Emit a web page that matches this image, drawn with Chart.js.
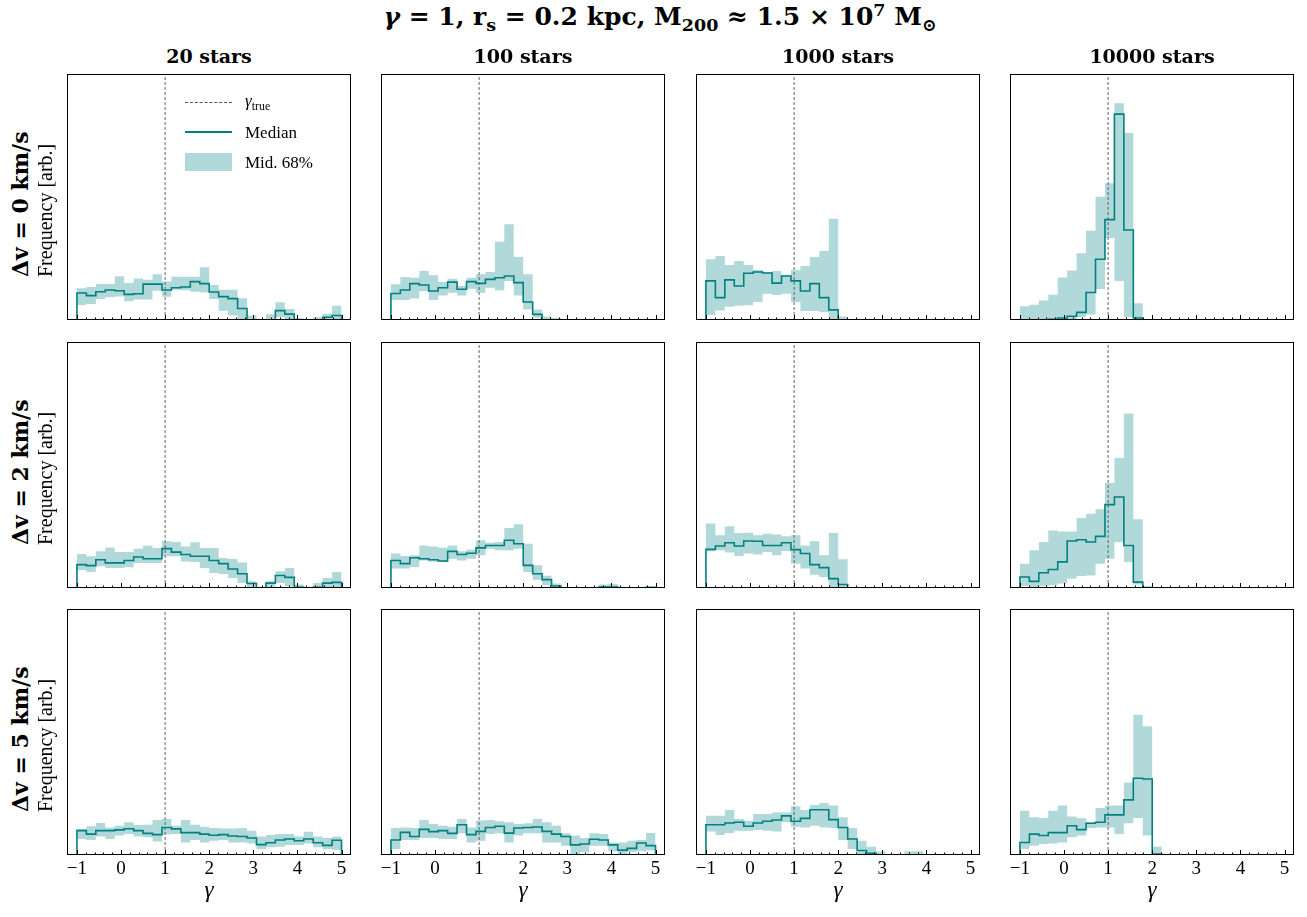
<!DOCTYPE html>
<html>
<head>
<meta charset="utf-8">
<script src="https://cdn.jsdelivr.net/npm/chart.js@4.4.1/dist/chart.umd.min.js"></script>
<style>
  body { margin: 0; background: #fff; }
  #fig { position: relative; width: 1307px; height: 917px; font-family: 'Liberation Serif', 'DejaVu Serif', serif; color: #000; }
  #fig canvas { position: absolute; }
  .txt { position: absolute; white-space: nowrap; line-height: 1; }
  .bold { font-family: 'DejaVu Serif', serif; font-weight: bold; }
  .rot { transform-origin: 0 0; transform: rotate(-90deg); }
</style>
</head>
<body>
<div id="fig"></div>
<script>
// histogram binning of gamma, 28 bins between -1 and 5
const binMin = -1, binMax = 5, nBins = 28;
const xMin = -1.225, xMax = 5.215;
const gammaTrue = 1;
const starCounts = ['20', '100', '1000', '10000'];
const dvValues = ['0', '2', '5'];

// frequency [arb.] per bin : median, lower and upper edge of the middle 68%
// dv = 0 km/s
const med_dv0_n20 = [11.0, 9.9, 11.5, 12.2, 11.9, 10.4, 10.7, 14.6, 14.6, 12.2, 13.1, 13.4, 15.6, 14.8, 11.4, 9.5, 8.7, 4.7, 0, 0, 0, 3.8, 2.4, 0, 0, 0, 1.1, 1.8];
const hi_dv0_n20  = [12.9, 13.4, 14.6, 14.6, 17.8, 15.0, 16.9, 16.4, 18.6, 15.7, 17.6, 17.6, 17.6, 21.4, 14.2, 12.3, 12.3, 8.8, 1.8, 0.4, 2.3, 7.2, 4.5, 0.7, 0, 1.1, 2.4, 5.8];
const lo_dv0_n20  = [6.1, 6.5, 8.5, 9.2, 9.6, 7.6, 8.3, 8.3, 11.9, 9.5, 12.3, 12.1, 11.5, 11.2, 8.5, 3.8, 1.8, 0, 0, 0, 0, 1.1, 0, 0, 0, 0, 0, 0];

const med_dv0_n100 = [10.8, 12.2, 14.8, 14.2, 11.8, 13.1, 15.4, 12.5, 15.6, 14.9, 16.5, 17.2, 17.9, 15.2, 7.3, 2.3, 0, 0, 0, 0, 0, 0, 0, 0, 0, 0, 0, 0];
const hi_dv0_n100  = [14.5, 17.5, 17.2, 19.9, 18.2, 15.4, 16.8, 13.8, 17.2, 18.6, 19.5, 31.8, 38.9, 25.6, 18.6, 4.3, 1.4, 0.8, 0, 0, 0, 0, 0.3, 0.3, 0, 0, 0, 0];
const lo_dv0_n100  = [8.1, 8.1, 8.7, 11.7, 8.1, 10.0, 11.1, 10.0, 12.7, 11.1, 13.1, 12.1, 15.9, 10.0, 4.3, 0.9, 0, 0, 0, 0, 0, 0, 0, 0, 0, 0, 0, 0];

const med_dv0_n1000 = [15.9, 9.1, 16.3, 13.8, 19.0, 19.5, 19.1, 15.0, 17.9, 15.9, 11.8, 14.8, 9.1, 4.1, 0, 0, 0, 0, 0, 0, 0, 0, 0, 0, 0, 0, 0, 0];
const hi_dv0_n1000  = [24.7, 26.0, 22.4, 24.0, 22.4, 20.3, 19.5, 19.9, 18.4, 20.3, 22.0, 25.6, 28.0, 41.2, 1.4, 0, 0, 0, 0, 0, 0, 0, 0, 0, 0, 0, 0, 0];
const lo_dv0_n1000  = [2.0, 3.9, 5.4, 5.8, 6.0, 7.3, 10.7, 10.2, 10.7, 7.3, 3.7, 3.7, 3.3, 0, 0, 0, 0, 0, 0, 0, 0, 0, 0, 0, 0, 0, 0, 0];

const med_dv0_n10000 = [0, 0, 0, 0.3, 0.8, 1.5, 3.1, 11.2, 24.7, 40.8, 83.7, 36.6, 0.8, 0, 0, 0, 0, 0, 0, 0, 0, 0, 0, 0, 0, 0, 0, 0];
const hi_dv0_n10000  = [5.6, 6.2, 7.9, 10.3, 17.3, 20.1, 27.1, 36.3, 50.1, 55.6, 88.1, 76.0, 6.8, 0, 0, 0, 0, 0, 0, 0, 0, 0, 0, 0, 0, 0, 0, 0];
const lo_dv0_n10000  = [0, 0, 0, 0, 0, 0.4, 1.1, 2.2, 12.6, 33.3, 15.9, 1.1, 0, 0, 0, 0, 0, 0, 0, 0, 0, 0, 0, 0, 0, 0, 0, 0];

// dv = 2 km/s
const med_dv2_n20 = [9.5, 9.1, 11.5, 10.2, 10.2, 11.2, 12.6, 11.9, 11.9, 16.0, 14.6, 13.6, 12.9, 12.9, 11.2, 9.9, 7.7, 5.8, 1.8, 0, 2.0, 5.1, 4.3, 0.3, 0, 0.3, 2.0, 2.3];
const hi_dv2_n20  = [13.8, 12.9, 14.9, 16.5, 14.6, 14.6, 16.0, 17.2, 16.3, 19.0, 18.7, 16.9, 18.6, 16.3, 16.3, 12.2, 11.8, 10.4, 2.7, 0.3, 2.7, 6.8, 8.1, 1.4, 0.3, 2.0, 4.1, 6.5];
const lo_dv2_n20  = [7.2, 6.5, 8.8, 8.1, 8.1, 8.4, 10.2, 10.2, 10.2, 12.9, 12.9, 10.8, 10.6, 8.1, 6.1, 5.7, 4.1, 2.0, 0, 0, 0, 2.0, 0.7, 0, 0, 0, 0, 0];

const med_dv2_n100 = [11.2, 9.9, 12.3, 11.9, 11.5, 11.0, 14.9, 13.6, 14.1, 16.3, 17.3, 17.3, 19.4, 18.0, 9.2, 5.8, 3.4, 0.8, 0, 0, 0, 0, 0.4, 0.4, 0, 0, 0, 0.3];
const hi_dv2_n100  = [14.0, 13.0, 13.3, 17.3, 16.9, 16.4, 17.3, 14.9, 15.7, 19.4, 18.4, 18.7, 24.4, 25.9, 18.0, 9.2, 5.0, 1.8, 0.3, 0, 0, 0, 1.4, 1.6, 0, 0, 0, 0.4];
const lo_dv2_n100  = [7.9, 7.9, 8.5, 11.2, 10.8, 10.6, 11.9, 11.2, 11.9, 13.3, 16.0, 15.3, 15.3, 16.0, 6.5, 3.4, 1.1, 0, 0, 0, 0, 0, 0, 0, 0, 0, 0, 0];

const med_dv2_n1000 = [15.7, 17.1, 18.4, 17.1, 19.1, 19.0, 17.3, 17.3, 18.4, 15.6, 14.0, 9.5, 8.3, 3.8, 1.4, 0, 0, 0, 0, 0, 0, 0, 0, 0, 0, 0, 0, 0];
const hi_dv2_n1000  = [26.2, 21.4, 25.1, 22.4, 22.5, 21.4, 22.1, 21.7, 21.0, 21.4, 17.3, 19.0, 13.3, 22.4, 11.7, 0, 0, 0, 0, 0, 0, 0, 0, 0, 0, 0, 0, 0];
const lo_dv2_n1000  = [14.9, 15.3, 14.4, 13.0, 14.0, 13.6, 14.6, 13.3, 15.0, 9.9, 7.9, 5.4, 4.5, 0, 0, 0, 0, 0, 0, 0, 0, 0, 0, 0, 0, 0, 0, 0];

const med_dv2_n10000 = [4.5, 2.7, 6.2, 7.5, 10.6, 19.1, 19.6, 18.7, 21.0, 33.9, 37.0, 17.3, 2.4, 0, 0, 0, 0, 0, 0, 0, 0, 0, 0, 0, 0, 0, 0, 0];
const hi_dv2_n10000  = [9.9, 15.3, 18.7, 23.4, 23.0, 23.0, 28.5, 30.2, 32.0, 42.7, 52.8, 70.9, 27.9, 0.8, 0, 0, 0, 0, 0, 0, 0, 0, 0, 0, 0, 0, 0, 0];
const lo_dv2_n10000  = [0.8, 0.4, 0.8, 1.1, 1.8, 3.8, 4.9, 5.1, 9.9, 11.9, 18.7, 10.6, 1.4, 0, 0, 0, 0, 0, 0, 0, 0, 0, 0, 0, 0, 0, 0, 0];

// dv = 5 km/s
const med_dv5_n20 = [9.9, 8.5, 9.9, 9.9, 10.2, 10.7, 9.9, 8.8, 8.3, 11.2, 10.6, 9.1, 9.1, 8.5, 8.0, 8.3, 7.7, 7.5, 6.9, 4.2, 5.0, 6.1, 6.5, 5.8, 6.5, 5.0, 3.9, 6.0];
const hi_dv5_n20  = [10.6, 11.7, 13.0, 11.2, 11.9, 13.3, 12.2, 12.3, 14.2, 14.6, 11.9, 14.2, 12.3, 11.5, 11.0, 10.8, 10.8, 11.0, 9.9, 7.5, 8.1, 8.5, 8.5, 7.5, 9.5, 7.5, 6.9, 7.5];
const lo_dv5_n20  = [6.5, 6.1, 7.5, 6.5, 7.9, 8.5, 7.5, 7.2, 5.5, 8.3, 8.5, 5.1, 6.1, 5.1, 5.8, 6.1, 5.1, 5.1, 4.7, 2.4, 3.1, 3.4, 4.1, 4.1, 4.7, 3.1, 2.4, 2.0];

const med_dv5_n100 = [6.1, 9.2, 7.5, 10.4, 9.5, 9.9, 8.8, 12.3, 8.3, 9.6, 11.2, 11.7, 8.9, 11.0, 11.2, 11.4, 9.6, 8.5, 7.5, 4.1, 4.5, 6.4, 6.1, 4.1, 2.0, 2.7, 4.9, 3.8];
const hi_dv5_n100  = [11.0, 11.2, 11.0, 14.2, 12.6, 11.9, 11.5, 14.6, 11.2, 14.0, 14.2, 13.7, 13.3, 12.6, 12.9, 14.6, 13.3, 11.9, 8.8, 7.9, 6.9, 8.8, 8.5, 5.1, 5.1, 5.8, 6.1, 8.9];
const lo_dv5_n100  = [2.4, 6.1, 6.1, 6.9, 6.9, 6.5, 6.5, 8.8, 5.1, 5.8, 8.5, 8.8, 5.1, 7.9, 8.8, 8.8, 5.1, 5.1, 3.8, 0.4, 1.1, 3.8, 3.8, 1.5, 0.4, 1.1, 1.5, 1.8];

const med_dv5_n1000 = [12.3, 12.3, 13.0, 13.3, 11.7, 13.0, 13.7, 14.2, 15.9, 13.7, 14.9, 18.4, 18.4, 14.4, 11.2, 6.5, 1.8, 0.7, 0, 0, 0, 0, 0, 0, 0, 0, 0, 0];
const hi_dv5_n1000  = [16.0, 16.0, 18.3, 14.6, 13.9, 16.7, 16.7, 17.3, 17.3, 19.8, 18.3, 20.3, 21.1, 20.1, 15.3, 11.0, 5.8, 3.4, 1.4, 0.3, 0, 1.5, 1.5, 0, 0, 0, 0, 0];
const lo_dv5_n1000  = [9.6, 8.1, 8.9, 9.9, 9.9, 10.2, 9.9, 9.6, 13.3, 11.5, 11.2, 11.9, 11.2, 11.0, 6.1, 2.4, 0, 0, 0, 0, 0, 0, 0, 0, 0, 0, 0, 0];

const med_dv5_n10000 = [5.1, 8.5, 7.9, 9.1, 9.1, 11.9, 10.3, 12.9, 13.3, 16.3, 16.3, 22.4, 31.2, 30.9, 0.4, 0, 0, 0, 0, 0, 0, 0, 0, 0, 0, 0, 0, 0];
const hi_dv5_n10000  = [18.0, 15.3, 15.0, 18.0, 20.1, 15.6, 14.9, 13.3, 19.1, 20.1, 20.1, 29.5, 57.0, 52.3, 3.4, 0, 0, 0, 0, 0, 0, 0, 0, 0, 0, 0, 0, 0];
const lo_dv5_n10000  = [2.4, 3.8, 4.5, 4.7, 5.1, 7.2, 7.9, 11.0, 11.2, 11.2, 8.5, 12.9, 15.0, 7.9, 0, 0, 0, 0, 0, 0, 0, 0, 0, 0, 0, 0, 0, 0];

const medians = [
  [med_dv0_n20, med_dv0_n100, med_dv0_n1000, med_dv0_n10000],
  [med_dv2_n20, med_dv2_n100, med_dv2_n1000, med_dv2_n10000],
  [med_dv5_n20, med_dv5_n100, med_dv5_n1000, med_dv5_n10000],
];
const uppers = [
  [hi_dv0_n20, hi_dv0_n100, hi_dv0_n1000, hi_dv0_n10000],
  [hi_dv2_n20, hi_dv2_n100, hi_dv2_n1000, hi_dv2_n10000],
  [hi_dv5_n20, hi_dv5_n100, hi_dv5_n1000, hi_dv5_n10000],
];
const lowers = [
  [lo_dv0_n20, lo_dv0_n100, lo_dv0_n1000, lo_dv0_n10000],
  [lo_dv2_n20, lo_dv2_n100, lo_dv2_n1000, lo_dv2_n10000],
  [lo_dv5_n20, lo_dv5_n100, lo_dv5_n1000, lo_dv5_n10000],
];

const TEAL = '#008080';
const BAND = 'rgba(0, 128, 128, 0.3)';
const SERIF = "'Liberation Serif', 'DejaVu Serif', serif";

// panel layout (px)
const panelLeft = [67, 381, 696, 1010];
const panelTop = [74, 342, 609];
const panelW = 284, panelH = 246;
const padX = 20, padY = 4, axisH = 50;

const edges = [];
for (let k = 0; k <= nBins; k++) edges.push(binMin + k * (binMax - binMin) / nBins);

function bandPoints(vals) {
  const pts = vals.map((v, k) => ({ x: edges[k], y: v }));
  pts.push({ x: edges[nBins], y: vals[nBins - 1] });
  return pts;
}

function medianPoints(vals) {
  const pts = [{ x: xMin, y: 0 }];
  vals.forEach((v, k) => pts.push({ x: edges[k], y: v }));
  pts.push({ x: edges[nBins], y: 0 });
  pts.push({ x: xMax, y: 0 });
  return pts;
}

// black frame and inward bottom ticks (major every 1, minor every 0.2)
const framePlugin = {
  id: 'frame',
  afterDraw(chart) {
    const { ctx, chartArea: a } = chart;
    const x = chart.scales.x;
    ctx.save();
    ctx.strokeStyle = '#000';
    ctx.lineWidth = 1;
    ctx.strokeRect(a.left + 0.5, a.top + 0.5, a.width - 1, a.height - 1);
    ctx.beginPath();
    for (let i = 0; i <= 30; i++) {
      const px = Math.round(x.getPixelForValue(binMin + i * 0.2)) + 0.5;
      const len = i % 5 === 0 ? 5 : 2.5;
      ctx.moveTo(px, a.bottom);
      ctx.lineTo(px, a.bottom - len);
    }
    ctx.stroke();
    ctx.restore();
  }
};

const fig = document.getElementById('fig');

function addText(html, css, cls) {
  const d = document.createElement('div');
  d.className = 'txt' + (cls ? ' ' + cls : '');
  d.innerHTML = html;
  Object.assign(d.style, css);
  fig.appendChild(d);
  return d;
}

for (let r = 0; r < 3; r++) {
  for (let c = 0; c < 4; c++) {
    const bottomRow = r === 2;
    const cv = document.createElement('canvas');
    const w = panelW + 2 * padX;
    const h = panelH + padY + (bottomRow ? axisH : padY);
    cv.width = w; cv.height = h;
    cv.style.left = (panelLeft[c] - padX) + 'px';
    cv.style.top = (panelTop[r] - padY) + 'px';
    cv.style.width = w + 'px'; cv.style.height = h + 'px';
    fig.appendChild(cv);

    const xScale = {
      type: 'linear', min: xMin, max: xMax,
      display: bottomRow,
      grid: { display: false, drawTicks: false },
      border: { display: false },
      ticks: {
        stepSize: 1, includeBounds: false, maxRotation: 0, autoSkip: false, padding: 3,
        color: '#000', font: { family: SERIF, size: 19 },
        callback: v => (v < 0 ? '\u2212' + Math.abs(v) : String(v))
      },
      title: { display: true, text: '\u03b3', color: '#000', padding: { top: 0, bottom: 0 },
        font: { family: SERIF, size: 23, style: 'italic' } }
    };
    if (bottomRow) xScale.afterFit = s => { s.height = axisH; };

    new Chart(cv.getContext('2d'), {
      type: 'line',
      data: {
        datasets: [
          { label: 'lo', data: bandPoints(lowers[r][c]), stepped: true, borderWidth: 0, pointRadius: 0, fill: false, order: 3 },
          { label: 'Mid. 68%', data: bandPoints(uppers[r][c]), stepped: true, borderWidth: 0, pointRadius: 0,
            fill: '-1', backgroundColor: BAND, order: 2 },
          { label: 'gamma_true', data: [{ x: gammaTrue, y: 0 }, { x: gammaTrue, y: 100 }], borderColor: '#555',
            borderWidth: 0.9, borderDash: [3, 2], pointRadius: 0, order: 1 },
          { label: 'Median', data: medianPoints(medians[r][c]), stepped: true, borderColor: TEAL,
            borderWidth: 1.6, pointRadius: 0, fill: false, order: 0 },
        ]
      },
      options: {
        responsive: false,
        animation: false,
        devicePixelRatio: 1,
        layout: { padding: { left: padX, right: padX, top: padY, bottom: bottomRow ? 0 : padY } },
        plugins: { legend: { display: false }, tooltip: { enabled: false } },
        scales: {
          x: xScale,
          y: { type: 'linear', min: 0, max: 100, display: false }
        }
      },
      plugins: [framePlugin]
    });
  }
}

// title
addText('<i>γ</i> = 1, r<sub style="font-size:70%">s</sub> = 0.2 kpc, M<sub style="font-size:70%">200</sub> ≈ 1.5 × 10<sup style="font-size:70%">7</sup> M<sub style="font-size:70%">⊙</sub>',
  { left: '660px', top: '18px', transform: 'translate(-50%, -50%)', fontSize: '25px' }, 'bold');

// column titles
starCounts.forEach((n, c) => {
  addText(n + ' stars', { left: (panelLeft[c] + panelW / 2) + 'px', top: '56px', transform: 'translate(-50%, -50%)',
    fontSize: '19px' }, 'bold');
});

// row labels
dvValues.forEach((dv, r) => {
  const bottomY = panelTop[r] + 203;
  addText('Δv = ' + dv + ' km/s', { left: '9px', top: bottomY + 'px', fontSize: '22px' }, 'bold rot');
  addText('Frequency [arb.]', { left: '35px', top: bottomY + 'px', fontSize: '20px' }, 'rot');
});

// legend inside the first panel
const lg = document.createElement('div');
lg.style.cssText = 'position:absolute;left:185px;top:92px;font-size:17px;';
lg.innerHTML =
  '<div style="position:absolute;left:0;top:10px;width:47px;border-top:1px dashed #555;"></div>' +
  '<div class="txt" style="left:60px;top:0px;"><i>γ</i><sub style="font-size:70%">true</sub></div>' +
  '<div style="position:absolute;left:0;top:39px;width:47px;border-top:2px solid ' + TEAL + ';"></div>' +
  '<div class="txt" style="left:60px;top:32px;">Median</div>' +
  '<div style="position:absolute;left:0;top:61px;width:47px;height:18px;background:' + BAND + ';"></div>' +
  '<div class="txt" style="left:60px;top:62px;">Mid. 68%</div>';
fig.appendChild(lg);
</script>
</body>
</html>
